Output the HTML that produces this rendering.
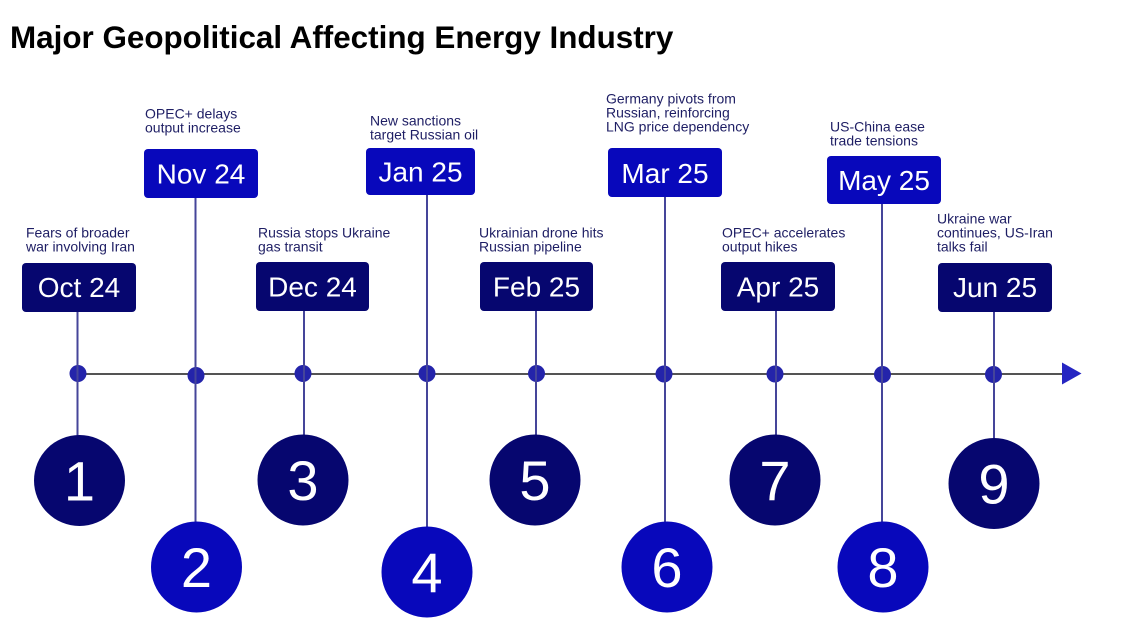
<!DOCTYPE html>
<html>
<head>
<meta charset="utf-8">
<style>
  html, body { margin: 0; padding: 0; background: #ffffff; }
  body { width: 1131px; height: 619px; overflow: hidden; }
  svg { display: block; }
  text { font-family: "Liberation Sans", Arial, sans-serif; }
  .desc { font-size: 14px; fill: #1e1e64; }
  .box { font-size: 28px; fill: #ffffff; }
  .num { font-size: 56px; fill: #ffffff; }
</style>
</head>
<body>
<svg width="1131" height="619" viewBox="0 0 1131 619" xmlns="http://www.w3.org/2000/svg">
  <rect width="1131" height="619" fill="#ffffff"/>
  <text x="10" y="48" style="font-size:31.4px;font-weight:bold;fill:#000000;">Major Geopolitical Affecting Energy Industry</text>

  <!-- axis -->
  <line x1="78" y1="374" x2="1063" y2="374" stroke="#545454" stroke-width="2"/>
  <polygon points="1062,362.5 1062,384.5 1081.5,373.5" fill="#2626c2"/>

  <!-- dots -->
  <g fill="#2424aa">
    <circle cx="78" cy="373.5" r="8.5"/>
    <circle cx="196" cy="375.5" r="8.5"/>
    <circle cx="303" cy="373.5" r="8.5"/>
    <circle cx="427" cy="373.5" r="8.5"/>
    <circle cx="536.5" cy="373.5" r="8.5"/>
    <circle cx="664" cy="374" r="8.5"/>
    <circle cx="775" cy="374" r="8.5"/>
    <circle cx="882.5" cy="374.5" r="8.5"/>
    <circle cx="993.5" cy="374.5" r="8.5"/>
  </g>

  <!-- vertical connectors -->
  <g stroke="#45459a" stroke-width="2">
    <line x1="77.5" y1="312" x2="77.5" y2="436"/>
    <line x1="195.5" y1="198" x2="195.5" y2="523"/>
    <line x1="304" y1="311" x2="304" y2="436"/>
    <line x1="427" y1="195" x2="427" y2="528"/>
    <line x1="536" y1="311" x2="536" y2="436"/>
    <line x1="665" y1="197" x2="665" y2="523"/>
    <line x1="776" y1="311" x2="776" y2="436"/>
    <line x1="882" y1="204" x2="882" y2="523"/>
    <line x1="994" y1="312" x2="994" y2="439"/>
  </g>

  <!-- boxes -->
  <g>
    <rect x="22" y="263" width="114" height="49" rx="4" fill="#06066f"/>
    <text class="box" x="79" y="297" text-anchor="middle">Oct 24</text>

    <rect x="144" y="149" width="114" height="49" rx="4" fill="#0808bb"/>
    <text class="box" x="201" y="183.5" text-anchor="middle">Nov 24</text>

    <rect x="256" y="262" width="113" height="49" rx="4" fill="#06066f"/>
    <text class="box" x="312.5" y="296.5" text-anchor="middle">Dec 24</text>

    <rect x="366" y="148" width="109" height="47" rx="4" fill="#0808bb"/>
    <text class="box" x="420.5" y="181.5" text-anchor="middle">Jan 25</text>

    <rect x="480" y="262" width="113" height="49" rx="4" fill="#06066f"/>
    <text class="box" x="536.5" y="296.5" text-anchor="middle">Feb 25</text>

    <rect x="608" y="148" width="114" height="49" rx="4" fill="#0808bb"/>
    <text class="box" x="665" y="183" text-anchor="middle">Mar 25</text>

    <rect x="721" y="262" width="114" height="49" rx="4" fill="#06066f"/>
    <text class="box" x="778" y="296.5" text-anchor="middle">Apr 25</text>

    <rect x="827" y="156" width="114" height="48" rx="4" fill="#0808bb"/>
    <text class="box" x="884" y="190" text-anchor="middle">May 25</text>

    <rect x="938" y="263" width="114" height="49" rx="4" fill="#06066f"/>
    <text class="box" x="995" y="297" text-anchor="middle">Jun 25</text>
  </g>

  <!-- descriptions -->
  <g class="desc">
    <text class="desc" x="26" y="237.5">Fears of broader</text>
    <text class="desc" x="26" y="251.5">war involving Iran</text>

    <text class="desc" x="145" y="118.5">OPEC+ delays</text>
    <text class="desc" x="145" y="132.5">output increase</text>

    <text class="desc" x="258" y="237.5">Russia stops Ukraine</text>
    <text class="desc" x="258" y="251.5">gas transit</text>

    <text class="desc" x="370" y="125.5">New sanctions</text>
    <text class="desc" x="370" y="139.5">target Russian oil</text>

    <text class="desc" x="479" y="237.5">Ukrainian drone hits</text>
    <text class="desc" x="479" y="251.5">Russian pipeline</text>

    <text class="desc" x="606" y="103.5">Germany pivots from</text>
    <text class="desc" x="606" y="117.5">Russian, reinforcing</text>
    <text class="desc" x="606" y="131.5">LNG price dependency</text>

    <text class="desc" x="722" y="237.5">OPEC+ accelerates</text>
    <text class="desc" x="722" y="251.5">output hikes</text>

    <text class="desc" x="830" y="131.5">US-China ease</text>
    <text class="desc" x="830" y="145.5">trade tensions</text>

    <text class="desc" x="937" y="223.5">Ukraine war</text>
    <text class="desc" x="937" y="237.5">continues, US-Iran</text>
    <text class="desc" x="937" y="251.5">talks fail</text>
  </g>

  <!-- numbered circles -->
  <g>
    <circle cx="79.5" cy="480.5" r="45.5" fill="#06066f"/>
    <text class="num" x="79.5" y="500.5" text-anchor="middle">1</text>

    <circle cx="196.5" cy="567" r="45.5" fill="#0808bb"/>
    <text class="num" x="196.5" y="587" text-anchor="middle">2</text>

    <circle cx="303" cy="480" r="45.5" fill="#06066f"/>
    <text class="num" x="303" y="500" text-anchor="middle">3</text>

    <circle cx="427" cy="572" r="45.5" fill="#0808bb"/>
    <text class="num" x="427" y="592" text-anchor="middle">4</text>

    <circle cx="535" cy="480" r="45.5" fill="#06066f"/>
    <text class="num" x="535" y="500" text-anchor="middle">5</text>

    <circle cx="667" cy="567" r="45.5" fill="#0808bb"/>
    <text class="num" x="667" y="587" text-anchor="middle">6</text>

    <circle cx="775" cy="480" r="45.5" fill="#06066f"/>
    <text class="num" x="775" y="500" text-anchor="middle">7</text>

    <circle cx="883" cy="567" r="45.5" fill="#0808bb"/>
    <text class="num" x="883" y="587" text-anchor="middle">8</text>

    <circle cx="994" cy="483.5" r="45.5" fill="#06066f"/>
    <text class="num" x="994" y="503.5" text-anchor="middle">9</text>
  </g>
</svg>
</body>
</html>
